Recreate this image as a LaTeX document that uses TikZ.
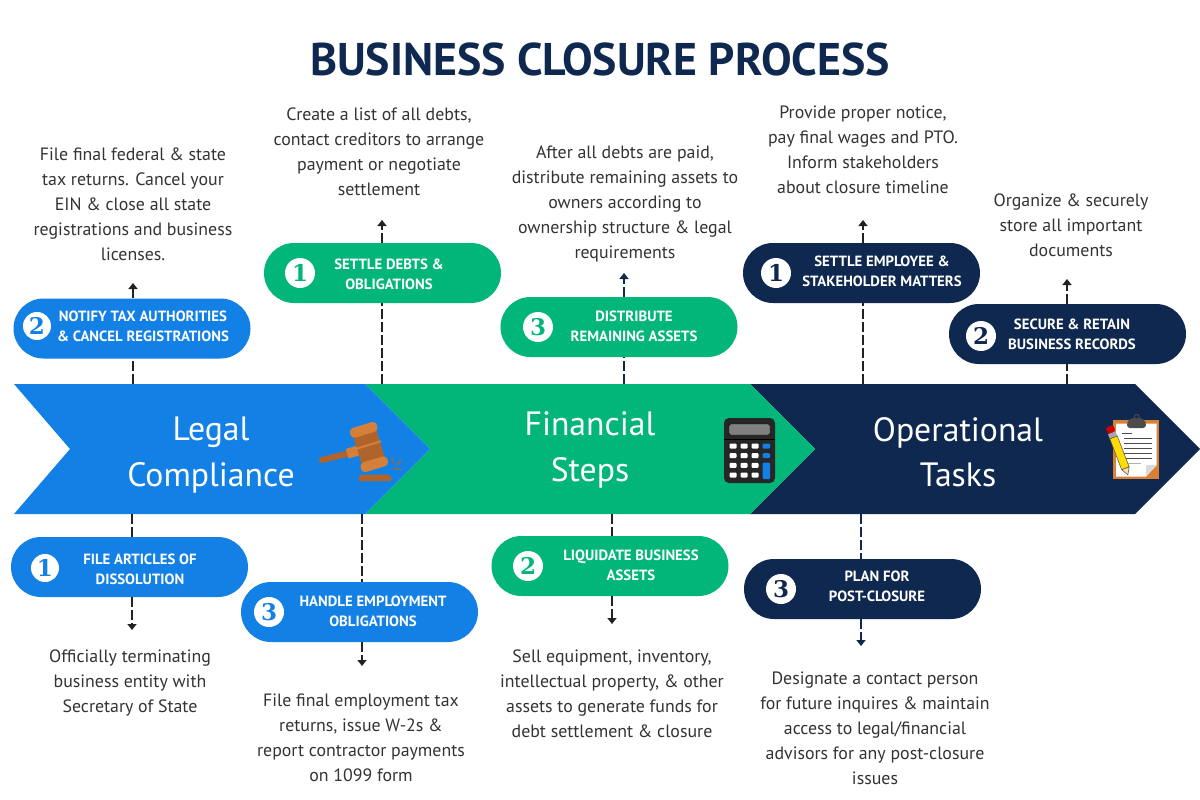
\documentclass[tikz,border=0pt]{standalone}
\usepackage{fontspec}
\setmainfont{PT Sans}
\usetikzlibrary{arrows.meta,shapes.misc}
\definecolor{legalblue}{HTML}{1380E6}
\definecolor{stepgreen}{HTML}{02B67A}
\definecolor{tasknavy}{HTML}{0F2850}
\definecolor{inkgray}{HTML}{333333}
\definecolor{stemblack}{HTML}{222222}
\definecolor{woodlight}{HTML}{D5803A}
\definecolor{wooddark}{HTML}{B0642C}
\tikzset{
  pill/.style={rounded rectangle,fill=#1,minimum width=237pt,minimum height=60pt,inner sep=0pt},
  pilltext/.style={text=white,align=center,inner sep=0pt,font=\fontsize{14.8}{20}\selectfont\bfseries},
  numdot/.style={circle,fill=white,text=#1,minimum size=28pt,inner sep=0pt,font=\fontsize{23}{23}\fontspec{DejaVu Serif}\bfseries},
  note/.style={text=inkgray,align=center,inner sep=0pt,font=\fontsize{17.85}{25}\selectfont},
  bartext/.style={text=white,align=center,inner sep=0pt,font=\fontsize{33.7}{45.5}\selectfont},
  stem/.style={draw=#1,line width=1.8pt,dash pattern=on 10pt off 3pt},
  stemtip/.style={stem=#1,-{Triangle[length=6pt,width=9pt]}}
}
\begin{document}
\begin{tikzpicture}[x=1pt,y=-1pt]
\useasboundingbox (0,0) rectangle (1200,800);
\fill[white] (0,0) rectangle (1200,800);
\node[text=tasknavy,inner sep=0pt,font=\fontsize{45.8}{46}\selectfont\bfseries] (heading) at (600,59) {BUSINESS CLOSURE PROCESS};

% bars
\fill[tasknavy] (750,384) -- (1135,384) -- (1200,449) -- (1135,514) -- (750,514) -- (815,449) -- cycle;
\fill[stepgreen] (365,384) -- (750,384) -- (815,449) -- (750,514) -- (365,514) -- (430,449) -- cycle;
\fill[legalblue] (14,384) -- (365,384) -- (430,449) -- (365,514) -- (14,514) -- (70,449) -- cycle;
\node[bartext] (legal) at (211,455) {Legal\\Compliance};
\node[bartext] (financial) at (590,450) {Financial\\Steps};
\node[bartext] (operational) at (958,452) {Operational\\Tasks};

% where the connectors leave the bars and where they stop
\coordinate (barnotify) at (133,384);
\coordinate (tipnotify) at (133,283);
\coordinate (bardebts) at (382,384);
\coordinate (tipdebts) at (382,220);
\coordinate (bardistribute) at (624,384);
\coordinate (tipdistribute) at (624,273);
\coordinate (baremployee) at (863,384);
\coordinate (tipemployee) at (863,220);
\coordinate (barrecords) at (1067,384);
\coordinate (tiprecords) at (1067,279);
\coordinate (barfile) at (132,514);
\coordinate (tipfile) at (132,630);
\coordinate (barhandle) at (362,514);
\coordinate (tiphandle) at (362,666);
\coordinate (barliquidate) at (612,514);
\coordinate (tipliquidate) at (612,624);
\coordinate (barplan) at (861,514);
\coordinate (tipplan) at (861,646);

% pills
\node[pill=legalblue] (notify) at (132,328.5) {};
\node[pill=stepgreen] (debts) at (382.5,273) {};
\node[pill=stepgreen] (distribute) at (619,327) {};
\node[pill=tasknavy] (employee) at (861.5,273) {};
\node[pill=tasknavy] (records) at (1067.5,334) {};
\node[pill=legalblue] (file) at (129.5,567) {};
\node[pill=legalblue] (handle) at (359.5,612) {};
\node[pill=stepgreen] (liquidate) at (610,566) {};
\node[pill=tasknavy] (plan) at (862.5,589) {};

\node[pilltext] (notifytext) at (143,326) {NOTIFY TAX AUTHORITIES\\\& CANCEL REGISTRATIONS};
\node[pilltext] (debtstext) at (389,274) {SETTLE DEBTS \&\\OBLIGATIONS};
\node[pilltext] (distributetext) at (634,326) {DISTRIBUTE\\REMAINING ASSETS};
\node[pilltext] (employeetext) at (882,271) {SETTLE EMPLOYEE \&\\STAKEHOLDER MATTERS};
\node[pilltext] (recordstext) at (1072,334) {SECURE \& RETAIN\\BUSINESS RECORDS};
\node[pilltext] (filetext) at (140,569) {FILE ARTICLES OF\\DISSOLUTION};
\node[pilltext] (handletext) at (373,611) {HANDLE EMPLOYMENT\\OBLIGATIONS};
\node[pilltext] (liquidatetext) at (631,565) {LIQUIDATE BUSINESS\\ASSETS};
\node[pilltext] (plantext) at (877,586) {PLAN FOR\\POST-CLOSURE};

\node[numdot=legalblue] (numnotify) at (37,326) {2};
\node[numdot=stepgreen,minimum size=30pt] (numdebts) at (300,273) {1};
\node[numdot=stepgreen,minimum size=30pt] (numdistribute) at (538,327) {3};
\node[numdot=tasknavy,minimum size=30pt] (numemployee) at (776,273) {1};
\node[numdot=tasknavy,minimum size=30pt] (numrecords) at (981,336) {2};
\node[numdot=legalblue] (numfile) at (45,568) {1};
\node[numdot=legalblue,minimum size=30pt] (numhandle) at (269,612) {3};
\node[numdot=stepgreen,minimum size=30pt] (numliquidate) at (528,566) {2};
\node[numdot=tasknavy,minimum size=30pt] (numplan) at (781,589) {3};

% connectors
\draw[stem=stemblack] (barnotify) -- (barnotify |- notify.south);
\draw[stemtip=stemblack] (barnotify |- notify.north) -- (tipnotify);
\draw[stem=stemblack] (bardebts) -- (bardebts |- debts.south);
\draw[stemtip=stemblack] (bardebts |- debts.north) -- (tipdebts);
\draw[stem=tasknavy] (bardistribute) -- (bardistribute |- distribute.south);
\draw[stemtip=tasknavy] (bardistribute |- distribute.north) -- (tipdistribute);
\draw[stem=stemblack] (baremployee) -- (baremployee |- employee.south);
\draw[stemtip=stemblack] (baremployee |- employee.north) -- (tipemployee);
\draw[stem=stemblack] (barrecords) -- (barrecords |- records.south);
\draw[stemtip=stemblack] (barrecords |- records.north) -- (tiprecords);
\draw[stem=stemblack] (barfile) -- (barfile |- file.north);
\draw[stemtip=stemblack] (barfile |- file.south) -- (tipfile);
\draw[stem=stemblack] (barhandle) -- (barhandle |- handle.north);
\draw[stemtip=stemblack] (barhandle |- handle.south) -- (tiphandle);
\draw[stem=stemblack] (barliquidate) -- (barliquidate |- liquidate.north);
\draw[stemtip=stemblack] (barliquidate |- liquidate.south) -- (tipliquidate);
\draw[stem=tasknavy] (barplan) -- (barplan |- plan.north);
\draw[stemtip=tasknavy] (barplan |- plan.south) -- (tipplan);

% notes
\node[note] (notenotify) at (133,204.5) {File final federal \& state\\tax returns. Cancel your\\EIN \& close all state\\registrations and business\\licenses.};
\node[note] (notedebts) at (379,151.5) {Create a list of all debts,\\contact creditors to arrange\\payment or negotiate\\settlement};
\node[note] (notedistribute) at (625,203.5) {After all debts are paid,\\distribute remaining assets to\\owners according to\\ownership structure \& legal\\requirements};
\node[note] (noteemployee) at (863,150) {Provide proper notice,\\pay final wages and PTO.\\Inform stakeholders\\about closure timeline};
\node[note] (noterecords) at (1071,225.5) {Organize \& securely\\store all important\\documents};
\node[note] (notefile) at (130,682.5) {Officially terminating\\business entity with\\Secretary of State};
\node[note] (notehandle) at (361,738) {File final employment tax\\returns, issue W-2s \&\\report contractor payments\\on 1099 form};
\node[note] (noteliquidate) at (612,694) {Sell equipment, inventory,\\intellectual property, \& other\\assets to generate funds for\\debt settlement \& closure};
\node[note] (noteplan) at (875,728.5) {Designate a contact person\\for future inquires \& maintain\\access to legal/financial\\advisors for any post-closure\\issues};

% gavel
\draw[wooddark,line width=6pt,line cap=round] (322,460) -- (352,452.5);
\fill[woodlight,rotate around={17:(353,452)}] (347,447) rectangle (358,457);
\begin{scope}[shift={(369,447)},rotate=17]
\fill[wooddark,rounded corners=3pt] (-12,-22) rectangle (12,22);
\fill[woodlight,rounded corners=4pt] (-14,-23) rectangle (14,-13);
\fill[woodlight,rounded corners=4pt] (-14,13) rectangle (14,23);
\fill[woodlight] (-13,-3) rectangle (13,-1);
\end{scope}
\fill[wooddark,rounded corners=2pt] (358,481) -- (360,474.5) -- (390,474.5) -- (392,481) -- cycle;
\draw[wooddark,line width=1.2pt,line cap=round] (392,458) -- (394,463) (401,460) -- (397,465) (394,468.5) -- (401,470);

% calculator
\fill[black!85,rounded corners=5pt] (724,418) rectangle (775,483);
\fill[gray,rounded corners=1.5pt,draw=black] (729,424) rectangle (770,435);
\draw[black] (724,439) -- (775,439);
\foreach \keyx in {733,744,755} {
  \foreach \keyy in {446,455.7,465.3,475} {
    \fill[white,rounded corners=1pt] (\keyx-3.5,\keyy-2.5) rectangle (\keyx+3.5,\keyy+2.5);
  }
}
\fill[legalblue,rounded corners=1pt] (762.7,443.5) rectangle (770,448.5);
\fill[legalblue,rounded corners=1pt] (762.7,453.2) rectangle (770,458.2);
\fill[legalblue,rounded corners=1pt] (762.7,462.7) rectangle (770,479);

% clipboard
\fill[woodlight!90!orange] (1113.3,420) rectangle (1159.3,479.3);
\fill[white] (1116,423.5) -- (1156.7,423.5) -- (1156.7,465) -- (1146,476.7) -- (1116,476.7) -- cycle;
\fill[black!15] (1146,476.7) -- (1146,465) -- (1156.7,465) -- cycle;
\draw[black!70,line width=1pt] (1136.7,417) circle [radius=2.5];
\fill[black!70,rounded corners=3pt] (1127,422) -- (1131,418) -- (1142,418) -- (1146,422) -- (1146,428) -- (1127,428) -- cycle;
\draw[black!70,line width=.7pt] (1121.7,433.5) -- (1131.7,433.5);
\foreach \liney in {438,443,448,453,458} {
  \draw[black!70,line width=.7pt] (1124,\liney) -- (1151.7,\liney);
}
\draw[black!30,line width=.7pt] (1126,463) -- (1141,463);
\begin{scope}[shift={(1110.7,430)},rotate=-69]
\fill[red!80!black,rounded corners=1.5pt] (-4,-4) rectangle (3,4);
\fill[gray!70] (3,-4) rectangle (8,4);
\fill[yellow!80!orange,draw=black!70,line width=.5pt] (8,-4) rectangle (41,4);
\fill[orange!30,draw=black!70,line width=.5pt] (41,-4) -- (48,0) -- (41,4) -- cycle;
\end{scope}
\end{tikzpicture}
\end{document}
